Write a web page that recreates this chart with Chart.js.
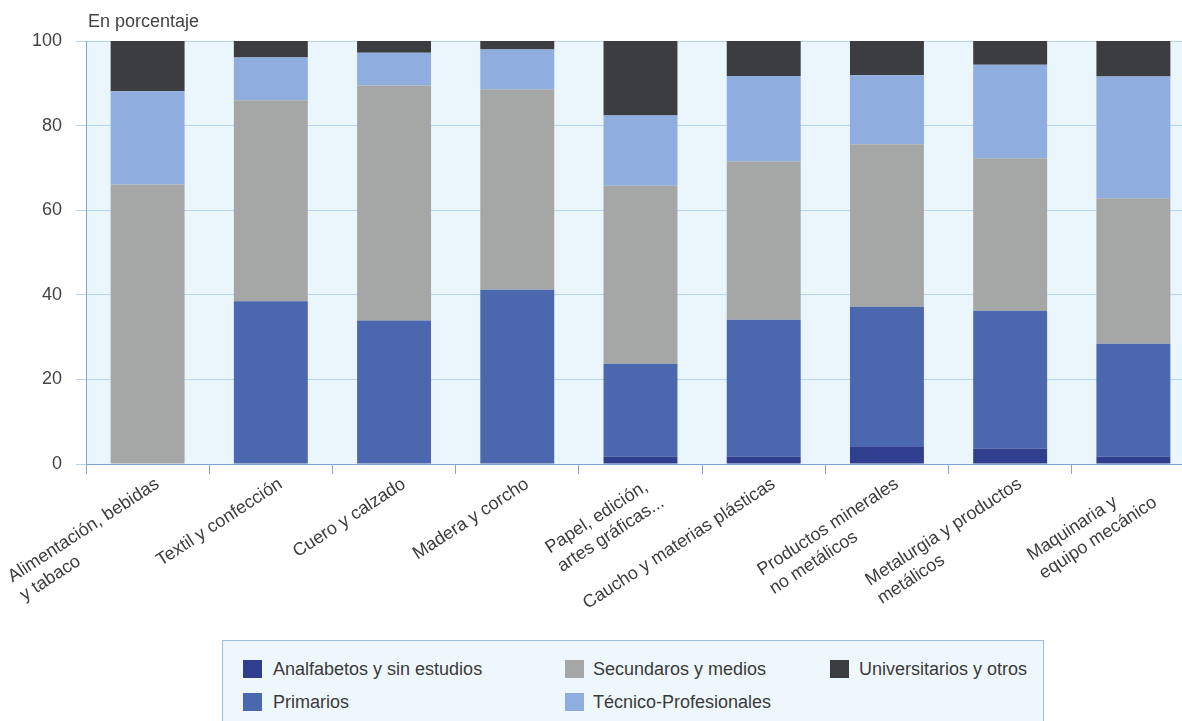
<!DOCTYPE html>
<html><head><meta charset="utf-8">
<script src="https://cdn.jsdelivr.net/npm/chart.js@4.4.1/dist/chart.umd.min.js"></script>
<style>
html,body{margin:0;padding:0;background:#fff;overflow:hidden;width:1182px;height:721px}
#wrap{position:absolute;left:0;top:0;width:1200px;height:721px}
#title{position:absolute;left:88px;top:11px;font:18px "Liberation Sans",Arial,sans-serif;color:#444;white-space:nowrap}
#legend{position:absolute;left:222px;top:640px;width:822px;height:100px;border:1px solid #9dbde6;background:#eef7fc;box-sizing:border-box}
.item{position:absolute;font:18px "Liberation Sans",Arial,sans-serif;color:#3a3a3a;line-height:20px;white-space:nowrap}
.sw{position:absolute;width:19px;height:18px}
</style></head>
<body>
<div id="wrap"><canvas id="c" width="1200" height="721"></canvas></div>
<div id="title">En porcentaje</div>
<div id="legend"></div>
<script>
const categories = [
  ["Alimentación, bebidas", "y tabaco"],
  "Textil y confección",
  "Cuero y calzado",
  "Madera y corcho",
  ["Papel, edición,", "artes gráficas..."],
  "Caucho y materias plásticas",
  ["Productos minerales", "no metálicos"],
  ["Metalurgia y productos", "metálicos"],
  ["Maquinaria y", "equipo mecánico"]
];
const seriesNames = ["Analfabetos y sin estudios", "Primarios", "Secundaros y medios", "Técnico-Profesionales", "Universitarios y otros"];
const analfabetos   = [0, 0, 0, 0, 1.7, 1.8, 4.2, 3.6, 1.7];
const primarios     = [0, 38.5, 33.9, 41.2, 22.0, 32.3, 33.0, 32.6, 26.7];
const secundarios   = [66.1, 47.5, 55.6, 47.4, 42.1, 37.5, 38.4, 36.1, 34.4];
const tecnicos      = [22.0, 10.1, 7.7, 9.4, 16.6, 20.1, 16.3, 22.1, 28.8];
const universitarios= [11.9, 3.9, 2.8, 2.0, 17.6, 8.3, 8.1, 5.6, 8.4];
const yTicks = [0, 20, 40, 60, 80, 100];

const seriesValues = [analfabetos, primarios, secundarios, tecnicos, universitarios];
const seriesColors = ["#2f3f8e", "#4b67ad", "#a5a7a6", "#8fadde", "#3c3d41"];

const FONT = '"Liberation Sans", Arial, sans-serif';

const bgPlugin = {
  id: 'bg',
  beforeDraw(chart) {
    const {ctx, chartArea: a} = chart;
    ctx.save();
    ctx.fillStyle = '#eaf6fc';
    ctx.fillRect(a.left, a.top, a.right - a.left, a.bottom - a.top);
    ctx.restore();
  }
};

const xLabelPlugin = {
  id: 'xlabels',
  afterDraw(chart) {
    const ctx = chart.ctx;
    const xs = chart.scales.x;
    ctx.save();
    ctx.font = '18px ' + FONT;
    ctx.fillStyle = '#3d3d3d';
    ctx.textBaseline = 'top';
    ctx.textAlign = 'left';
    categories.forEach((lab, i) => {
      const lines = Array.isArray(lab) ? lab : [lab];
      const w = Math.max(...lines.map(l => ctx.measureText(l).width));
      const px = xs.getPixelForValue(i) + 5;
      const py = xs.top + 11;
      ctx.save();
      ctx.translate(px, py);
      ctx.rotate(-33 * Math.PI / 180);
      lines.forEach((l, j) => ctx.fillText(l, -w, j * 22));
      ctx.restore();
    });
    ctx.restore();
  }
};

new Chart(document.getElementById('c'), {
  type: 'bar',
  data: {
    labels: categories,
    datasets: seriesNames.map((n, k) => ({
      label: n,
      data: seriesValues[k],
      backgroundColor: seriesColors[k],
      borderWidth: 0,
      barPercentage: 0.6,
      categoryPercentage: 1.0
    }))
  },
  options: {
    responsive: false,
    devicePixelRatio: 1,
    animation: false,
    layout: {padding: {top: 41, right: 5, left: 0, bottom: 0}},
    plugins: {legend: {display: false}, tooltip: {enabled: false}, title: {display: false}},
    scales: {
      x: {
        stacked: true,
        afterFit(scale) { scale.height = 257; },
        ticks: {display: false},
        grid: {drawOnChartArea: false, drawTicks: true, tickLength: 10, color: '#7fa5d8', offset: true},
        border: {color: '#7fa5d8', width: 1}
      },
      y: {
        stacked: true,
        min: 0, max: 100,
        afterFit(scale) { scale.width = 86; },
        afterBuildTicks(scale) { scale.ticks = yTicks.map(v => ({value: v})); },
        ticks: {stepSize: 20, font: {family: FONT, size: 18}, color: '#444', padding: 14},
        grid: {color: '#b6d5f0', tickLength: 10, lineWidth: 1},
        border: {color: '#7fa5d8', width: 1}
      }
    }
  },
  plugins: [bgPlugin, xLabelPlugin]
});

// legend (HTML, built from the series arrays)
const legendPos = [[20, 19, 50, 18], [20, 52, 50, 51], [342, 19, 370, 18], [342, 52, 370, 51], [607, 19, 636, 18]];
const lg = document.getElementById('legend');
seriesNames.forEach((name, k) => {
  const p = legendPos[k];
  const sw = document.createElement('div');
  sw.className = 'sw';
  sw.style.left = p[0] + 'px'; sw.style.top = p[1] + 'px';
  sw.style.background = seriesColors[k];
  lg.appendChild(sw);
  const t = document.createElement('div');
  t.className = 'item';
  t.style.left = p[2] + 'px'; t.style.top = p[3] + 'px';
  t.textContent = name;
  lg.appendChild(t);
});
</script>
</body></html>
